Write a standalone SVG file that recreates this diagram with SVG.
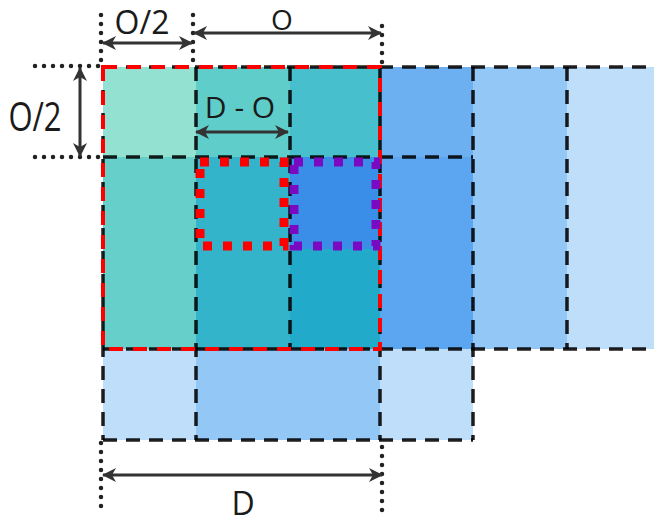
<svg xmlns="http://www.w3.org/2000/svg" width="654" height="523" viewBox="0 0 654 523">
<defs>
<style>
.grid{stroke:#000;stroke-opacity:0.88;stroke-width:3.5;stroke-dasharray:14 9;fill:none}
.red{stroke:#FF0000;stroke-width:4;stroke-dasharray:14 10;fill:none}
.rdot{stroke:#FF0000;stroke-width:9;stroke-dasharray:9 11;fill:none}
.pdot{stroke:#7A0AC2;stroke-width:9;stroke-dasharray:9 11;fill:none}
.dots{stroke:#222;stroke-width:4.5;stroke-dasharray:0 9;stroke-linecap:round;fill:none}
.dim{stroke:#333;stroke-width:3;fill:none;marker-start:url(#ah);marker-end:url(#ah)}
.lbl{font-family:"Open Sans","DejaVu Sans",sans-serif;fill:#1a1a1a;text-anchor:middle}
</style>
<marker id="ah" viewBox="0 0 14 14" refX="13" refY="7" markerWidth="14" markerHeight="14" markerUnits="userSpaceOnUse" orient="auto-start-reverse">
<path d="M0,0 L14,7 L0,14 L4,7 z" fill="#333"/>
</marker>
</defs>
<g id="cells">
<rect x="103" y="67" width="93" height="90" fill="#93E2D1"/>
<rect x="196" y="67" width="94" height="90" fill="#5FCDC9"/>
<rect x="290" y="67" width="90" height="90" fill="#48BFCD"/>
<rect x="380" y="67" width="93" height="90" fill="#6CB0F2"/>
<rect x="473" y="67" width="94" height="282" fill="#93C7F6"/>
<rect x="567" y="67" width="87" height="282" fill="#BEDEF9"/>
<rect x="103" y="157" width="93" height="192" fill="#66CFC9"/>
<rect x="196" y="157" width="94" height="192" fill="#33B4CA"/>
<rect x="290" y="157" width="90" height="192" fill="#22AACA"/>
<rect x="290" y="157" width="88" height="92" fill="#3A8EE8"/>
<rect x="380" y="157" width="93" height="192" fill="#5CA6F1"/>
<rect x="103" y="349" width="93" height="91" fill="#BEDEF9"/>
<rect x="196" y="349" width="184" height="91" fill="#93C7F6"/>
<rect x="380" y="349" width="93" height="91" fill="#BEDEF9"/>
</g>
<g id="grid-lines">
<line class="grid" x1="103" y1="67" x2="654" y2="67"/>
<line class="grid" x1="103" y1="157" x2="473" y2="157"/>
<line class="grid" x1="103" y1="349" x2="654" y2="349"/>
<line class="grid" x1="103" y1="440" x2="473" y2="440"/>
<line class="grid" x1="103" y1="67" x2="103" y2="440"/>
<line class="grid" x1="196" y1="67" x2="196" y2="440"/>
<line class="grid" x1="290" y1="67" x2="290" y2="349"/>
<line class="grid" x1="380" y1="67" x2="380" y2="440"/>
<line class="grid" x1="473" y1="67" x2="473" y2="440"/>
<line class="grid" x1="567" y1="67" x2="567" y2="349"/>
</g>
<g id="red-window">
<rect class="red" x="103" y="67" width="277" height="282"/>
</g>
<g id="red-dotted">
<rect class="rdot" x="200" y="162" width="84" height="84"/>
</g>
<g id="purple-dotted">
<rect class="pdot" x="294" y="162" width="82" height="84"/>
</g>
<g id="connectors">
<line class="dots" x1="101" y1="15" x2="101" y2="65"/>
<line class="dots" x1="193" y1="15" x2="193" y2="65"/>
<line class="dots" x1="382" y1="26" x2="382" y2="65"/>
<line class="dots" x1="35" y1="66" x2="100" y2="66"/>
<line class="dots" x1="35" y1="157" x2="100" y2="157"/>
<line class="dots" x1="101" y1="443" x2="101" y2="512"/>
<line class="dots" x1="382" y1="447" x2="382" y2="512"/>
<line class="dim" x1="103" y1="43" x2="192" y2="43"/>
<line class="dim" x1="194" y1="33" x2="381" y2="33"/>
<line class="dim" x1="80" y1="68" x2="80" y2="156"/>
<line class="dim" x1="196" y1="132" x2="288" y2="132"/>
<line class="dim" x1="103" y1="475" x2="382" y2="475"/>
</g>
<g id="labels">
<text class="lbl" x="142" y="34" font-size="32">O/2</text>
<text class="lbl" x="282" y="30" font-size="28">O</text>
<text class="lbl" x="0" y="0" font-size="31" transform="translate(35,131) scale(1,1.3)">O/2</text>
<text class="lbl" x="240" y="118" font-size="30" xml:space="preserve">D - O</text>
<text class="lbl" x="243" y="515" font-size="32">D</text>
</g>
</svg>
